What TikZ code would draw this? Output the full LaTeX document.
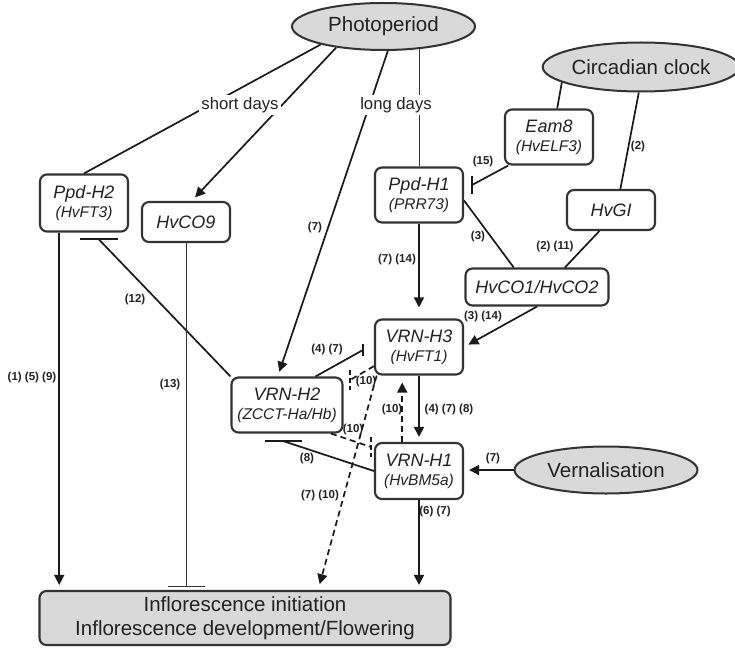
\documentclass[tikz,border=0pt]{standalone}
\usepackage{fontspec}
\setmainfont{Liberation Sans}
\usepackage{tikz}
\usetikzlibrary{arrows.meta,calc,shapes.geometric}
\definecolor{flink}{HTML}{1A1A1A}
\definecolor{fbox}{HTML}{333333}
\definecolor{fgray}{HTML}{D9D9D9}
\definecolor{ftext}{HTML}{222222}
\newcommand{\genesub}[1]{{\fontsize{15.5}{17}\selectfont(#1)}}

\begin{document}
\begin{tikzpicture}[x=1pt,y=-1pt,>={Triangle[length=10pt,width=10pt]},
  text=ftext,
  cue/.style={ellipse,draw=fbox,line width=2pt,fill=fgray,inner sep=0pt,
    minimum width=183pt,minimum height=47pt,font=\fontsize{20.5}{22}\selectfont},
  gene/.style={draw=fbox,line width=2.1pt,rounded corners=7pt,fill=white,
    inner sep=0pt,align=center,minimum width=88pt,minimum height=55pt,
    font=\fontsize{18}{19}\selectfont\itshape},
  link/.style={flink,line width=1.7pt},
  act/.style={link,->,shorten >=5pt},
  dash10/.style={dash pattern=on 6pt off 4pt},
  weak/.style={fbox,line width=1pt},
  ref/.style={font=\fontsize{11.5}{12}\selectfont\bfseries,inner sep=0pt},
  cond/.style={fill=white,inner sep=2pt,font=\fontsize{16.7}{18}\selectfont}]
\path[use as bounding box] (0,0) rectangle (735,647);
\fill[white] (0,0) rectangle (735,647);

% cues
\node[cue] (photo) at (383.5,26.5) {Photoperiod};
\node[cue,minimum height=49pt] (clock) at (641,67) {Circadian clock};
\node[cue] (vern) at (606,470) {Vernalisation};

% genes
\node[gene,minimum height=57pt] (ppdh2) at (84,203) {Ppd-H2\\\genesub{HvFT3}};
\node[gene,minimum height=40pt] (hvco9) at (186,222) {HvCO9};
\node[gene] (ppdh1) at (419,195) {Ppd-H1\\\genesub{PRR73}};
\node[gene] (eam8) at (549,137) {Eam8\\\genesub{HvELF3}};
\node[gene,minimum height=40pt] (hvgi) at (611,210) {HvGI};
\node[gene,minimum width=143pt,minimum height=37pt] (hvco) at (537,287) {HvCO1/HvCO2};
\node[gene] (vrnh3) at (419,347) {VRN-H3\\\genesub{HvFT1}};
\node[gene,minimum width=111pt] (vrnh2) at (287,405) {VRN-H2\\\genesub{ZCCT-Ha/Hb}};
\node[gene,minimum height=56pt] (vrnh1) at (419,471) {VRN-H1\\\genesub{HvBM5a}};
\node[gene,fill=fgray,minimum width=411pt,minimum height=54pt,
  font=\fontsize{20.5}{24}\selectfont] (flower) at (245,618)
  {Inflorescence initiation\\Inflorescence development/Flowering};

% ends of the repressions
\coordinate (b15) at (472,185);
\coordinate (b12) at (98.5,239);
\coordinate (b13) at (186,586);
\coordinate (b47) at (363,350);
\coordinate (b10a) at (350,380);
\coordinate (b10b) at (371,447);
\coordinate (b8) at (283,441);

% photoperiod
\draw[link] (photo.196) -- (ppdh2.north);
\draw[act] (photo.204) -- (hvco9.75);
\draw[act] (photo.280) -- (vrnh2.108);
\draw[weak] (ppdh1.north) -- (ppdh1.north |- photo.328);

% clock
\draw[link] (clock.191) -- (eam8.74);
\draw[link] (clock.265) -- (hvgi.66);
\draw[link] (eam8.215) -- (b15);
\draw[link] (b15) ++(0,-9) -- ++(0,18);
\draw[link] (ppdh1.353) -- (hvco.140);
\draw[link] (hvgi.241) -- (hvco.35);
\draw[act,shorten >=11pt] (ppdh1.south) -- (vrnh3.north);
\draw[act] (hvco.south) -- (vrnh3.east);

% vernalisation pathway
\draw[act] (vern.west) -- (vern.west -| vrnh1.east);
\draw[act] (vrnh3.south) -- (vrnh1.north);
\draw[act,dash10,shorten >=7pt] (vrnh1.120) -- (vrnh1.120 |- vrnh3.south);
\draw[link] (vrnh2.45) -- (b47);
\draw[link] (b47) ++(0,-6) -- ++(0,12);
\draw[link,dash10] (vrnh3.203) -- (b10a);
\draw[link,dash pattern=on 5pt off 3pt] (b10a) ++(0,-10) -- ++(0,20);
\draw[link,dash10] (vrnh2.327) -- (b10b);
\draw[link,dash pattern=on 5pt off 3pt] (b10b) ++(0,-10) -- ++(0,20);
\draw[link] (vrnh1.west) -- (b8);
\draw[link] (b8) ++(-18.5,0) -- ++(37,0);
\draw[link] (vrnh2.north west) -- (b12);
\draw[link] (b12) ++(-19,0) -- ++(38,0);

% to flowering
\draw[act] (ppdh2.230) -- (ppdh2.230 |- flower.north);
\draw[weak] (hvco9.south) -- (b13);
\draw[weak] (b13) ++(-18.5,0) -- ++(37,0);
\draw[act,dash10,shorten >=6pt] (vrnh3.214) -- (flower.21);
\draw[act] (vrnh1.south) -- (vrnh1.south |- flower.north);

% day length
\node[cond] (sd) at (240,105) {short days};
\node[cond] (ld) at (396,105) {long days};

% references
\node[ref] (r1) at (315,228) {(7)};
\node[ref] (r2) at (32,378) {(1) (5) (9)};
\node[ref] (r3) at (170,385) {(13)};
\node[ref] (r4) at (135,300) {(12)};
\node[ref] (r5) at (483,162) {(15)};
\node[ref] (r6) at (638,147) {(2)};
\node[ref] (r7) at (478,237) {(3)};
\node[ref] (r8) at (555,247) {(2) (11)};
\node[ref] (r9) at (397,260) {(7) (14)};
\node[ref] (r10) at (483,317) {(3) (14)};
\node[ref] (r11) at (327,350) {(4) (7)};
\node[ref] (r12) at (366,382) {(10)};
\node[ref] (r13) at (392,410) {(10)};
\node[ref] (r14) at (449,410) {(4) (7) (8)};
\node[ref] (r15) at (353,430) {(10)};
\node[ref] (r16) at (307,459) {(8)};
\node[ref] (r17) at (320,496) {(7) (10)};
\node[ref] (r18) at (493,459) {(7)};
\node[ref] (r19) at (435,512) {(6) (7)};
\end{tikzpicture}
\end{document}
